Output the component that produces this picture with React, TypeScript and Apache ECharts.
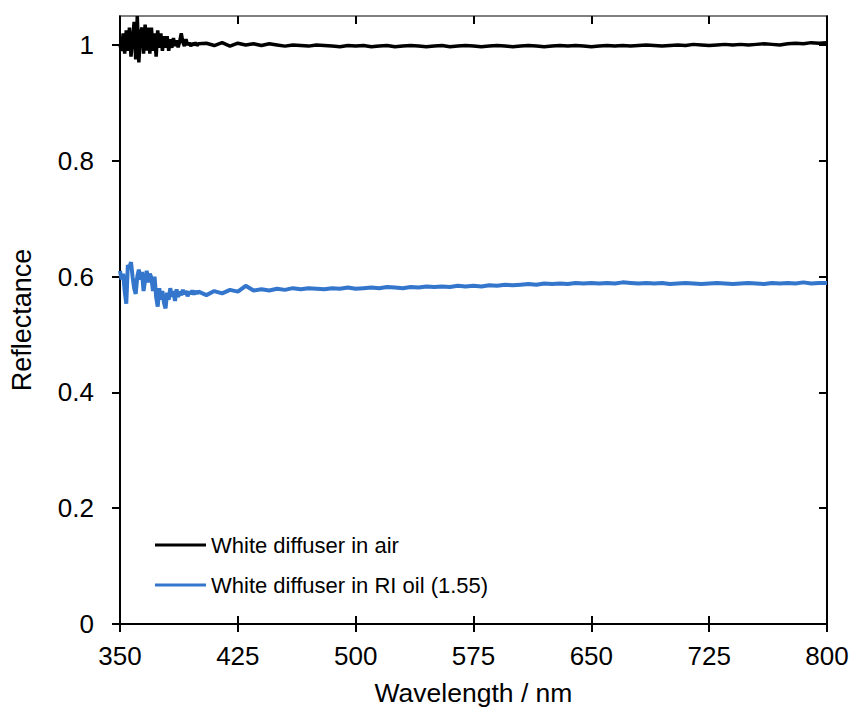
import React, { useEffect, useRef } from "react";
import * as echarts from "echarts";

const fineWavelengths = [
  350, 351, 352, 353, 354, 355, 356, 357, 358, 359, 360, 361, 362, 363, 364, 365, 366, 367, 368, 369,
  370, 371, 372, 373, 374, 375, 376, 377, 378, 379, 380, 381, 382, 383, 384, 385, 386, 387, 388, 389,
  390, 391, 392, 393, 394, 395, 396, 397, 398, 399, 400,
];
const coarseWavelengths = [
  405, 410, 415, 420, 425, 430, 435, 440, 445, 450, 455, 460, 465, 470, 475, 480, 485, 490, 495, 500,
  505, 510, 515, 520, 525, 530, 535, 540, 545, 550, 555, 560, 565, 570, 575, 580, 585, 590, 595, 600,
  605, 610, 615, 620, 625, 630, 635, 640, 645, 650, 655, 660, 665, 670, 675, 680, 685, 690, 695, 700,
  705, 710, 715, 720, 725, 730, 735, 740, 745, 750, 755, 760, 765, 770, 775, 780, 785, 790, 795, 800,
];

const airFine = [
  1.0, 0.99, 1.02, 0.985, 1.025, 0.99, 1.03, 0.98, 1.01, 1.04, 0.975, 1.05, 0.97, 1.02, 1.03, 0.985,
  1.035, 0.99, 1.03, 0.985, 1.03, 0.99, 1.02, 0.98, 1.025, 0.995, 1.02, 0.99, 1.015, 0.995, 1.015,
  0.99, 1.01, 0.995, 1.012, 0.998, 1.008, 0.996, 1.006, 1.02, 1.005, 0.998, 1.01, 1.0, 1.004, 0.998,
  1.003, 1.0, 1.004, 0.999, 1.002,
];
const airCoarse = [
  1.003, 0.999, 1.004, 0.998, 1.003, 1.0, 1.002, 0.999, 1.002, 1.0, 0.998, 1.0, 0.999, 0.998, 1.0, 0.999,
  0.998, 0.997, 0.999, 0.998, 0.999, 0.997, 0.998, 0.999, 0.997, 0.998, 0.999, 0.998, 0.997, 0.998, 0.999,
  0.997, 0.998, 0.999, 0.998, 0.997, 0.998, 0.999, 0.998, 0.997, 0.998, 0.999, 0.998, 0.997, 0.998, 0.999,
  0.998, 0.999, 0.998, 0.997, 0.998, 0.999, 0.998, 0.999, 0.998, 0.999, 1.0, 0.999, 0.998, 0.999, 1.0,
  0.999, 1.001, 1.0, 0.999, 1.0, 1.001, 1.0, 1.001, 1.0, 1.001, 1.002, 1.001, 1.0, 1.002, 1.003, 1.002,
  1.004, 1.003, 1.004,
];

const oilFine = [
  0.61, 0.595, 0.605, 0.575, 0.553, 0.62, 0.615, 0.625, 0.6, 0.58, 0.57, 0.6, 0.612, 0.595, 0.608, 0.575,
  0.595, 0.61, 0.59, 0.605, 0.598, 0.575, 0.6, 0.565, 0.548, 0.58, 0.56, 0.575, 0.555, 0.545, 0.572,
  0.56, 0.58, 0.565, 0.575, 0.558, 0.578, 0.565, 0.574, 0.568, 0.577, 0.57, 0.575, 0.566, 0.574, 0.57,
  0.576, 0.569, 0.575, 0.571, 0.574,
];
const oilCoarse = [
  0.568, 0.575, 0.571, 0.577, 0.574, 0.584, 0.576, 0.578, 0.576, 0.579, 0.577, 0.58, 0.578, 0.58, 0.579,
  0.578, 0.58, 0.579, 0.581, 0.579, 0.58, 0.581, 0.58, 0.582, 0.581, 0.58, 0.582, 0.581, 0.583, 0.582,
  0.583, 0.582, 0.584, 0.583, 0.584, 0.583, 0.585, 0.584, 0.586, 0.585, 0.586, 0.587, 0.586, 0.588, 0.587,
  0.588, 0.587, 0.589, 0.588, 0.589, 0.588, 0.589, 0.588, 0.59, 0.589, 0.588, 0.589, 0.588, 0.589, 0.587,
  0.588, 0.589, 0.588, 0.587, 0.588, 0.589, 0.588, 0.587, 0.588, 0.589, 0.588, 0.587, 0.589, 0.588, 0.589,
  0.588, 0.59, 0.588, 0.589, 0.589,
];

const xTicks = [350, 425, 500, 575, 650, 725, 800];
const yTicks = [0, 0.2, 0.4, 0.6, 0.8, 1];
const seriesNames = ["White diffuser in air", "White diffuser in RI oil (1.55)"];

const pairs = (xs: number[], ys: number[]) => xs.map((x, i) => [x, ys[i]]);

const FONT = "Liberation Sans, Arial, sans-serif";

export default function App() {
  const ref = useRef<HTMLDivElement>(null);
  useEffect(() => {
    if (!ref.current) return;
    const chart = echarts.init(ref.current, null, { renderer: "svg" });
    const airData = [...pairs(fineWavelengths, airFine), ...pairs(coarseWavelengths, airCoarse)];
    const oilData = [...pairs(fineWavelengths, oilFine), ...pairs(coarseWavelengths, oilCoarse)];
    const xBase = { type: "value", min: 350, max: 800, interval: 75, splitLine: { show: false } };
    const yBase = { type: "value", min: 0, max: 1.05, interval: 0.2, splitLine: { show: false } };
    chart.setOption({
      animation: false,
      backgroundColor: "#fff",
      grid: { left: 118, right: 26, top: 16, bottom: 86, containLabel: false },
      legend: {
        left: 150,
        top: 528,
        orient: "vertical",
        icon: "rect",
        itemWidth: 51,
        itemHeight: 3,
        itemGap: 16,
        textStyle: { fontFamily: FONT, fontSize: 22, color: "#000", lineHeight: 24 },
        data: seriesNames,
      },
      xAxis: [
        {
          ...xBase,
          position: "bottom",
          axisLine: { show: true, lineStyle: { color: "#000", width: 2 } },
          axisTick: { show: true, inside: false, length: 8, customValues: xTicks, lineStyle: { color: "#000", width: 2 } },
          axisLabel: { show: true, customValues: xTicks, margin: 19, fontFamily: FONT, fontSize: 26, color: "#000" },
          name: "Wavelength / nm",
          nameLocation: "middle",
          nameGap: 55,
          nameTextStyle: { fontFamily: FONT, fontSize: 26.5, color: "#000" },
        },
        {
          ...xBase,
          position: "bottom",
          axisLine: { show: false },
          axisTick: { show: true, inside: true, length: 8, customValues: xTicks, lineStyle: { color: "#000", width: 2 } },
          axisLabel: { show: false },
        },
        {
          ...xBase,
          position: "top",
          axisLine: { show: true, lineStyle: { color: "#555", width: 1.5 } },
          axisTick: { show: true, inside: true, length: 8, customValues: xTicks, lineStyle: { color: "#000", width: 2 } },
          axisLabel: { show: false },
        },
      ],
      yAxis: [
        {
          ...yBase,
          position: "left",
          axisLine: { show: true, lineStyle: { color: "#000", width: 2 } },
          axisTick: { show: true, inside: false, length: 8, customValues: yTicks, lineStyle: { color: "#000", width: 2 } },
          axisLabel: {
            show: true,
            customValues: yTicks,
            margin: 26,
            fontFamily: FONT,
            fontSize: 26,
            color: "#000",
            formatter: (v: number) => String(v),
          },
          name: "Reflectance",
          nameLocation: "middle",
          nameGap: 85,
          nameTextStyle: { fontFamily: FONT, fontSize: 27, color: "#000" },
        },
        {
          ...yBase,
          position: "right",
          axisLine: { show: true, lineStyle: { color: "#000", width: 2 } },
          axisTick: { show: true, inside: true, length: 8, customValues: yTicks, lineStyle: { color: "#000", width: 2 } },
          axisLabel: { show: false },
        },
      ],
      series: [
        {
          name: seriesNames[0],
          type: "line",
          xAxisIndex: 0,
          yAxisIndex: 0,
          data: airData,
          showSymbol: false,
          symbol: "none",
          color: "#000",
          lineStyle: { color: "#000", width: 3.5 },
          z: 3,
        },
        {
          name: seriesNames[1],
          type: "line",
          xAxisIndex: 0,
          yAxisIndex: 0,
          data: oilData,
          showSymbol: false,
          symbol: "none",
          color: "#3376cc",
          lineStyle: { color: "#3376cc", width: 4 },
          z: 3,
        },
      ],
    });
    return () => chart.dispose();
  }, []);
  return (
    <div
      ref={ref}
      style={{ position: "fixed", left: 0, top: 0, width: 853, height: 711, background: "#fff" }}
    />
  );
}
